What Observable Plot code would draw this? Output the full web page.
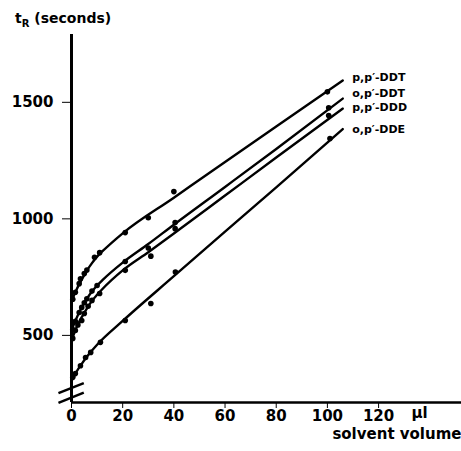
<!DOCTYPE html>
<html>
<head>
<meta charset="utf-8">
<script src="https://cdn.jsdelivr.net/npm/d3@7"></script>
<script src="https://cdn.jsdelivr.net/npm/@observablehq/plot@0.6"></script>
<style>
  html, body { margin: 0; padding: 0; background: #fff; }
  #wrap { position: relative; width: 461px; height: 451px; }
  #title { position: absolute; left: 15px; top: 11px; font: bold 14px "DejaVu Sans", sans-serif; line-height: 1; color: #000; white-space: nowrap; }
  #title .sub { font-size: 10px; position: relative; top: 4px; }
  g[aria-label="series-labels"] text { letter-spacing: 1.3px; }
</style>
</head>
<body>
<div id="wrap">
  <div id="title">t<span class="sub">R</span> (seconds)</div>
</div>
<script>
// ---- data ----
const seriesNames = ["p,p′-DDT", "o,p′-DDT", "p,p′-DDD", "o,p′-DDE"];

// fitted curves (solvent volume µl, retention time s)
const ppDDT_lineX = [0, 1, 2, 3, 4, 5, 6, 8, 10, 12, 20, 40, 60, 80, 106];
const ppDDT_lineY = [645, 672, 697, 719, 740, 760, 778, 810, 838, 860, 938, 1091, 1244, 1396, 1594];
const opDDT_lineX = [0, 1, 2, 3, 4, 5, 6, 8, 10, 12, 20, 30, 40, 60, 80, 106];
const opDDT_lineY = [520, 550, 575, 598, 620, 640, 657, 688, 714, 736, 812, 892, 975, 1137, 1300, 1516];
const ppDDD_lineX = [0, 1, 2, 3, 4, 5, 6, 8, 10, 12, 20, 30, 40, 60, 80, 106];
const ppDDD_lineY = [478, 508, 535, 558, 578, 597, 615, 648, 674, 698, 779, 857, 937, 1100, 1263, 1473];
const opDDE_lineX = [0, 1, 2, 4, 6, 8, 10, 20, 40, 60, 80, 106];
const opDDE_lineY = [305, 325, 345, 378, 408, 435, 460, 562, 754, 945, 1135, 1385];

// measured points
const ppDDT_ptX = [0.5, 1.5, 3, 3.5, 5, 6, 9, 11, 21, 30, 40, 100];
const ppDDT_ptY = [655, 685, 722, 743, 765, 780, 835, 855, 941, 1005, 1117, 1545];
const opDDT_ptX = [0.5, 1.5, 3, 4, 5, 6, 8, 10, 21, 30, 40.5, 100.5];
const opDDT_ptY = [525, 560, 598, 620, 640, 657, 690, 714, 817, 875, 984, 1477];
const ppDDD_ptX = [0.5, 1.5, 2.5, 4, 5, 6.5, 8, 11, 21, 31, 40.5, 100.5];
const ppDDD_ptY = [487, 521, 545, 564, 594, 625, 650, 680, 779, 840, 958, 1443];
const opDDE_ptX = [0.5, 1.5, 3.5, 5.5, 7.5, 11.3, 21, 31, 40.6, 101];
const opDDE_ptY = [320, 336, 370, 405, 427, 470, 564, 637, 772, 1345];

// series label positions (data units)
const labelX = 109.7;
const labelY = [1606, 1536, 1477, 1385];

const xTicks = [0, 20, 40, 60, 80, 100, 120];
const yTicks = [500, 1000, 1500];
const xUnit = "µl";
const xTitle = "solvent volume";

// ---- build tables ----
const lineSets = [[ppDDT_lineX, ppDDT_lineY], [opDDT_lineX, opDDT_lineY], [ppDDD_lineX, ppDDD_lineY], [opDDE_lineX, opDDE_lineY]];
const ptSets = [[ppDDT_ptX, ppDDT_ptY], [opDDT_ptX, opDDT_ptY], [ppDDD_ptX, ppDDD_ptY], [opDDE_ptX, opDDE_ptY]];
const lines = lineSets.flatMap(([xs, ys], i) => xs.map((x, j) => ({series: seriesNames[i], x, y: ys[j]})));
const points = ptSets.flatMap(([xs, ys], i) => xs.map((x, j) => ({series: seriesNames[i], x, y: ys[j]})));
const labels = seriesNames.map((name, i) => ({name, x: labelX, y: labelY[i]}));

const xDomain = [0, 152.4];
const yDomain = [212, 1791];
// axis break: two slashes across the y axis
const breaks = [
  {x1: -5.1, y1: 252, x2: 4.8, y2: 295},
  {x1: -5.1, y1: 210, x2: 4.8, y2: 254}
];

const chart = Plot.plot({
  width: 461,
  height: 451,
  marginLeft: 71,
  marginRight: 0,
  marginTop: 34,
  marginBottom: 49,
  style: {font: "bold 15px 'DejaVu Sans', sans-serif", color: "#000", background: "#fff"},
  x: {domain: xDomain, ticks: xTicks, tickSize: 6, tickPadding: 2, tickFormat: d => String(d), label: null},
  y: {domain: yDomain, ticks: yTicks, tickSize: 9, tickPadding: 9, tickFormat: d => String(d), label: null},
  marks: [
    Plot.line(lines, {x: "x", y: "y", z: "series", curve: "monotone-x", stroke: "#000", strokeWidth: 2.4}),
    Plot.dot(points, {x: "x", y: "y", r: 2.8, fill: "#000", stroke: "none"}),
    Plot.ruleX([0], {stroke: "#000", strokeWidth: 3}),
    Plot.ruleY([yDomain[0]], {stroke: "#000", strokeWidth: 2.5}),
    Plot.link(breaks, {x1: "x1", y1: "y1", x2: "x2", y2: "y2", stroke: "#000", strokeWidth: 2.5, clip: false}),
    Plot.text(labels, {x: "x", y: "y", text: "name", textAnchor: "start", fontSize: 11, ariaLabel: "series-labels"}),
    Plot.text([xUnit], {x: 136, frameAnchor: "bottom", dy: 15, text: d => d, fontSize: 15}),
    Plot.text([xTitle], {x: xDomain[1], frameAnchor: "bottom", dy: 36, text: d => d, textAnchor: "end", fontSize: 15})
  ]
});
document.getElementById("wrap").prepend(chart);
</script>
</body>
</html>
